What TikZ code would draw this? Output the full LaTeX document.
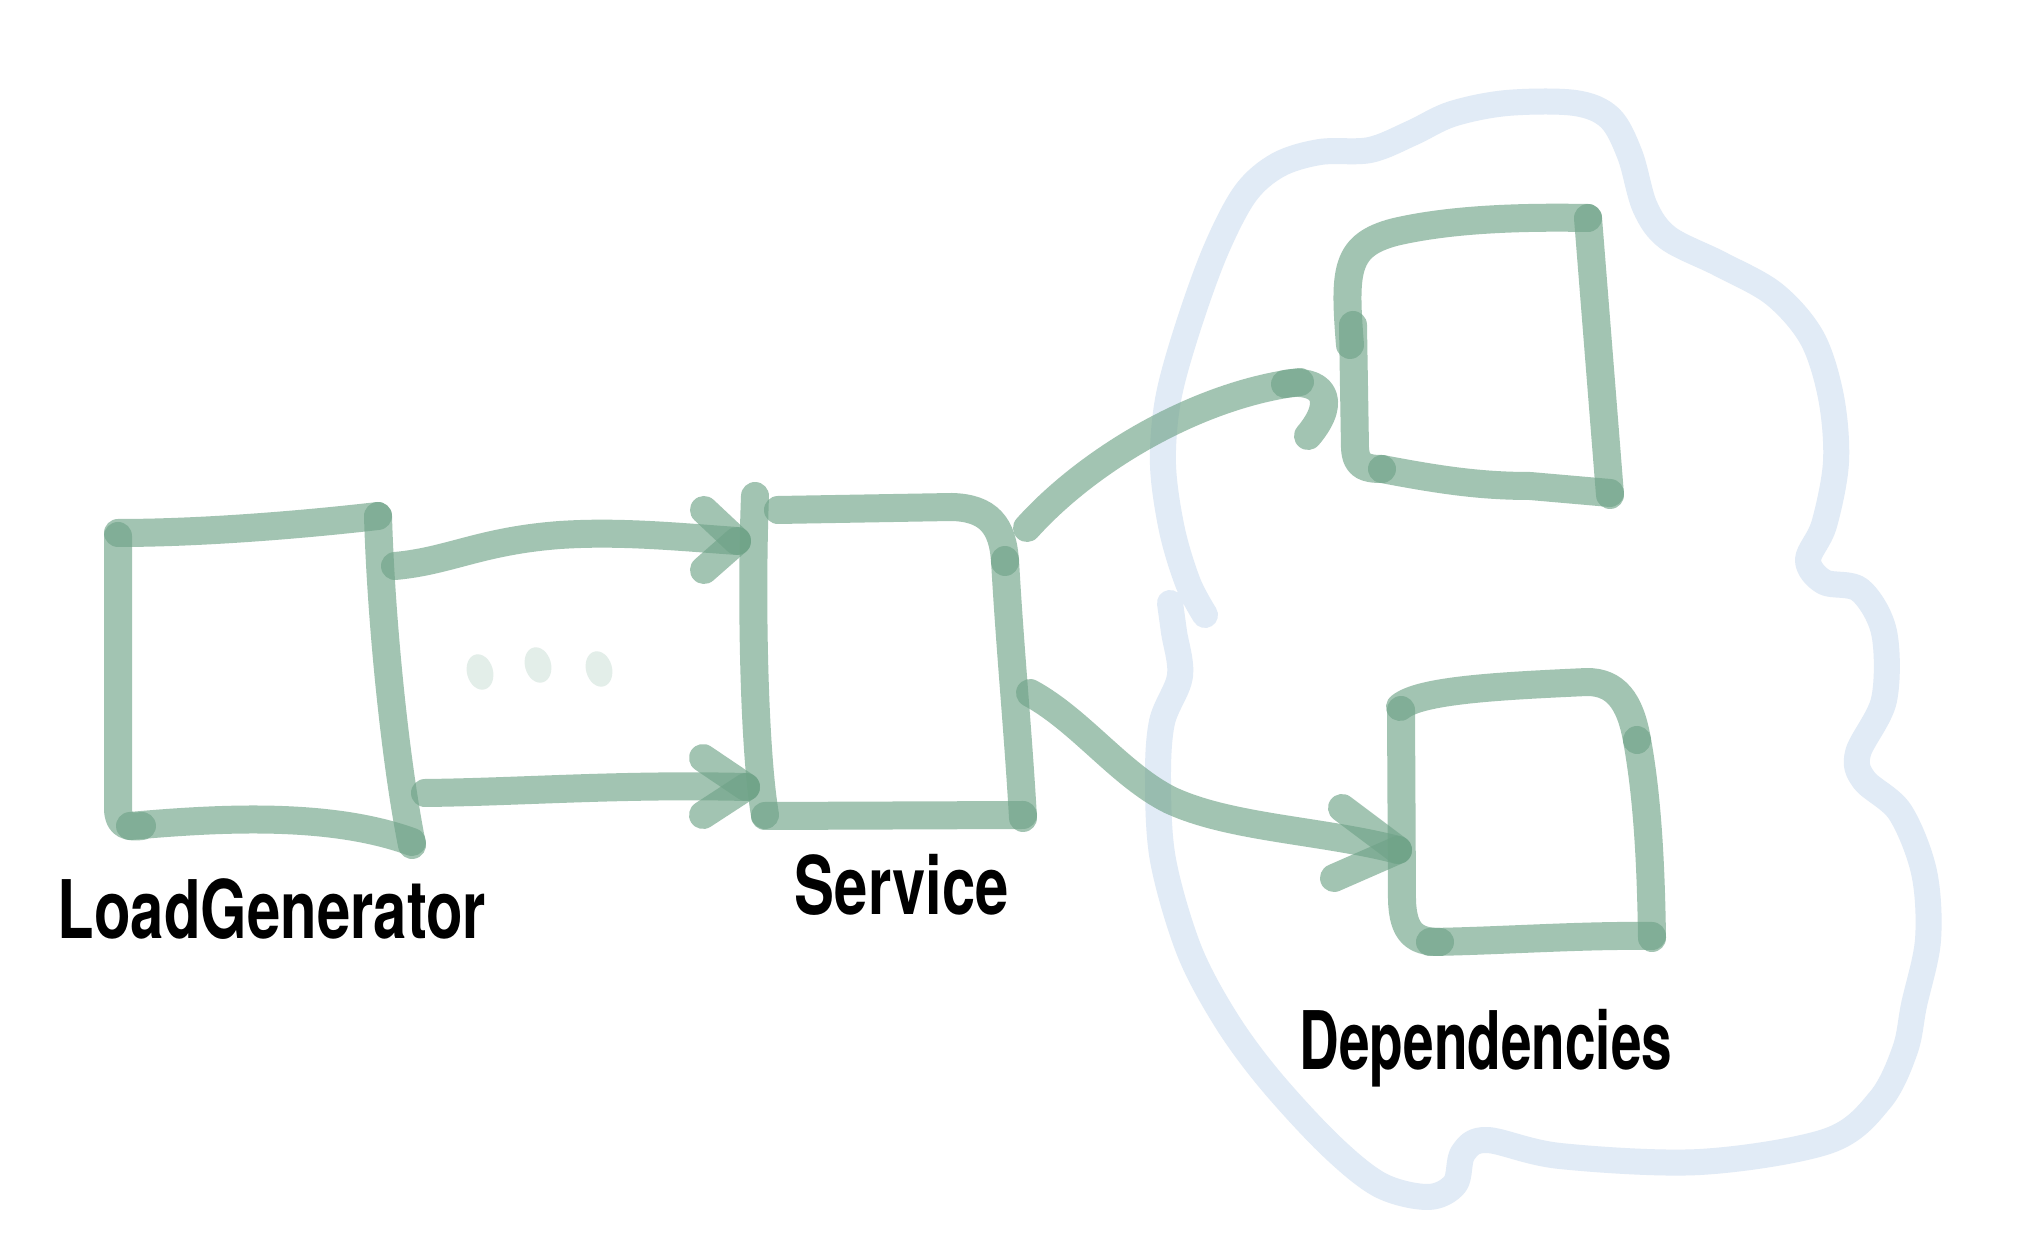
\documentclass[tikz,border=0pt]{standalone}
\usepackage{fontspec}
\newfontfamily\handA[FakeStretch=0.74]{TeX Gyre Heros}
\newfontfamily\handB[FakeStretch=0.68]{TeX Gyre Heros}
\definecolor{sg}{RGB}{111,163,136}
\definecolor{cl}{RGB}{225,235,246}
\definecolor{dt}{RGB}{227,238,233}
\tikzset{
  gs/.style={draw=sg, draw opacity=0.64, line width=2.8mm, line cap=round, line join=round},
  cloudline/.style={draw=cl, line width=2.6mm, line cap=round, line join=round},
  dotmark/.style={fill=dt, draw=none},
  lbl/.style={inner sep=0pt, anchor=base, text=black, font=\handA\bfseries\fontsize{23pt}{26pt}\selectfont},
}
\begin{document}
\begin{tikzpicture}[x=0.1mm, y=-0.1mm]
\useasboundingbox (0,0) rectangle (2032,1235);
\fill[white] (0,0) rectangle (2032,1235);

% cloud (drawn first, under everything)
\draw[cloudline] plot[smooth, tension=0.55] coordinates {
 (1205,615) (1188,583) (1172,530) (1163,465) (1168,400) (1187,330) (1215,252)
 (1245,194) (1278,165) (1320,152) (1370,150) (1412,133) (1452,114) (1507,103)
 (1575,103) (1610,118) (1630,155) (1645,207) (1668,238) (1720,264) (1774,294)
 (1812,338) (1831,397) (1836,462) (1824,525) (1808,560) (1824,582) (1860,590)
 (1884,632) (1884,700) (1858,753) (1864,780) (1900,812) (1924,872) (1928,940)
 (1914,1005) (1905,1050) (1880,1100) (1828,1141) (1700,1162) (1560,1156)
 (1487,1140) (1463,1153) (1455,1184) (1428,1197) (1380,1185) (1330,1145)
 (1270,1080) (1226,1020) (1189,950) (1163,860) (1158,780) (1162,722)
 (1180,676) (1174,632) (1170,603)};

% named anchor points
\coordinate (lgOut1) at (395,566);
\coordinate (svIn1) at (737,541);
\coordinate (lgOut2) at (425,793);
\coordinate (svIn2) at (746,787);
\coordinate (svOut1) at (1027,528);
\coordinate (upIn) at (1300,382);
\coordinate (svOut2) at (1030,693);
\coordinate (loIn) at (1398,850);

% LoadGenerator box
\draw[gs] (118,533) .. controls (200,533) and (300,525) .. (378,516);
\draw[gs] (378,516) .. controls (381,620) and (395,760) .. (412,845);
\draw[gs] (118,536) -- (118,808) .. controls (118,824) and (126,828) .. (142,826);
\draw[gs] (130,826) .. controls (220,818) and (330,812) .. (412,842);

% Service box
\draw[gs] (755,496) .. controls (751,600) and (754,750) .. (765,815);
\draw[gs] (778,510) -- (952,507) .. controls (988,508) and (1003,525) .. (1005,562);
\draw[gs] (1005,560) .. controls (1010,650) and (1018,730) .. (1023,818);
\draw[gs] (765,816) -- (1023,815);

% Upper dependency box
\draw[gs] (1350,345) .. controls (1344,270) and (1345,245) .. (1395,232) .. controls (1455,218) and (1530,217) .. (1588,218);
\draw[gs] (1588,218) -- (1610,495);
\draw[gs] (1353,325) -- (1355,448) .. controls (1356,466) and (1365,469) .. (1382,469);
\draw[gs] (1382,469) .. controls (1440,480) and (1480,486) .. (1530,486) -- (1610,493);

% Lower dependency box
\draw[gs] (1400,707) .. controls (1420,690) and (1500,686) .. (1587,682) .. controls (1615,682) and (1630,700) .. (1637,740);
\draw[gs] (1637,740) .. controls (1648,800) and (1651,870) .. (1652,938);
\draw[gs] (1401,710) -- (1402,900) .. controls (1403,932) and (1414,942) .. (1440,942);
\draw[gs] (1430,942) .. controls (1500,941) and (1580,935) .. (1652,936);

% dots
\fill[dotmark, rotate around={15:(480,672)}] (480,672) ellipse [x radius=13, y radius=18];
\fill[dotmark, rotate around={15:(538,665)}] (538,665) ellipse [x radius=13, y radius=18];
\fill[dotmark, rotate around={15:(599,669)}] (599,669) ellipse [x radius=13, y radius=18];

% arrows LoadGenerator -> Service
\draw[gs] (lgOut1) .. controls (450,561) and (480,541) .. (560,535) .. controls (620,531) and (680,537) .. (svIn1);
\draw[gs] (704,510) -- (svIn1);
\draw[gs] (704,570) -- (svIn1);
\draw[gs] (lgOut2) .. controls (520,792) and (620,784) .. (svIn2);
\draw[gs] (703,758) -- (svIn2);
\draw[gs] (703,815) -- (svIn2);

% Service -> upper dependency
\draw[gs] (svOut1) .. controls (1090,458) and (1200,394) .. (upIn);
\draw[gs] (1285,384) .. controls (1320,378) and (1340,398) .. (1308,436);

% Service -> lower dependency
\draw[gs] (svOut2) .. controls (1080,720) and (1120,775) .. (1170,800) .. controls (1230,828) and (1320,830) .. (loIn);
\draw[gs] (1342,808) -- (loIn);
\draw[gs] (1334,878) -- (loIn);

% labels
\node[lbl] (lgLabel) at (272,939) {LoadGenerator};
\node[lbl] (svLabel) at (902,915) {Service};
\node[lbl, font=\handB\bfseries\fontsize{23pt}{26pt}\selectfont] (depLabel) at (1486,1070) {Dependencies};
\end{tikzpicture}
\end{document}
